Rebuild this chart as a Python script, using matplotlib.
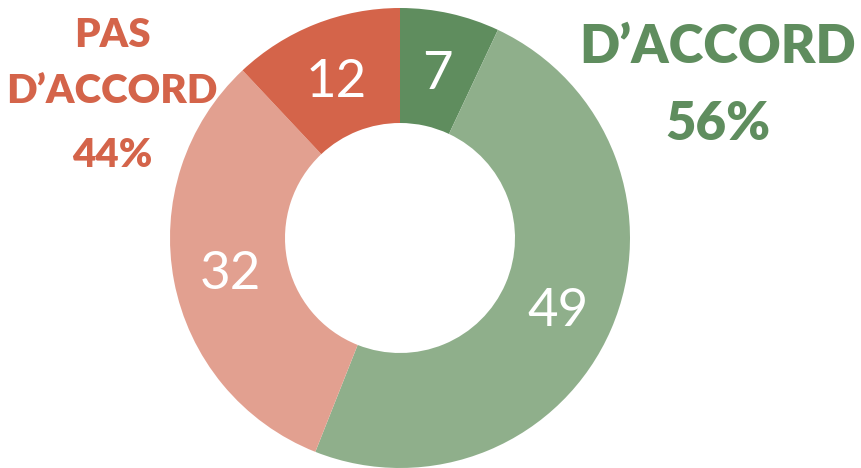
import matplotlib
matplotlib.use("Agg")
import matplotlib.pyplot as plt

plt.rcParams['font.family'] = ['Lato', 'DejaVu Sans']

# Survey answers, clockwise from the top
values = [7, 49, 32, 12]
labels = ["7", "49", "32", "12"]
colors = ["#5f8d5e", "#8faf8b", "#e2a090", "#d4644a"]

agree_lines = ["D\u2019ACCORD", "56%"]
disagree_lines = ["PAS", "D\u2019ACCORD", "44%"]

fig = plt.figure(figsize=(8.62, 4.68), dpi=100)
W, H = 862, 468
cx, cy, r = 400, 238, 230
ax = fig.add_axes([(cx - r) / W, (H - cy - r) / H, 2 * r / W, 2 * r / H])

wedges, texts = ax.pie(values, colors=colors, startangle=90, counterclock=False,
                       radius=1, labels=labels, labeldistance=0.75,
                       wedgeprops=dict(width=0.5, linewidth=0),
                       textprops=dict(color="white", fontsize=38, ha="center",
                                      va="center_baseline"))
ax.set_xlim(-1, 1)
ax.set_ylim(-1, 1)
ax.set_aspect("equal")
ax.axis("off")

# title lines, baselines in pixels from the top
for txt, base in zip(agree_lines, [63, 140]):
    fig.text(718 / W, 1 - base / H, txt, ha="center", va="baseline", color="#5f8d5e",
             fontsize=38, fontweight="heavy")
for txt, base in zip(disagree_lines, [47, 103, 167]):
    fig.text(112 / W, 1 - base / H, txt, ha="center", va="baseline", color="#d4644a",
             fontsize=29, fontweight="heavy")

fig.savefig("out.png", dpi=100)
